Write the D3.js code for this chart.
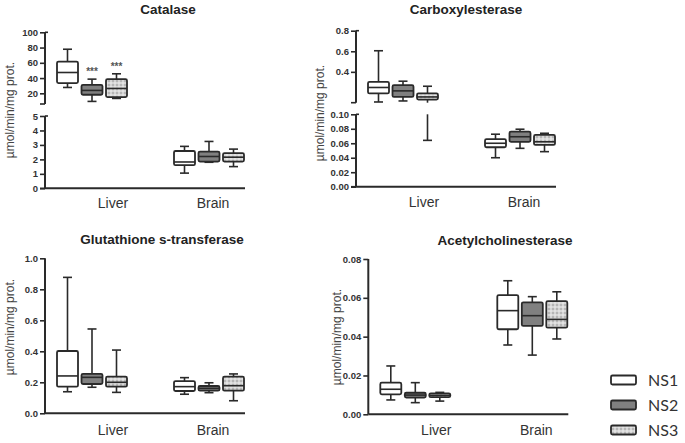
<!DOCTYPE html>
<html><head><meta charset="utf-8">
<script src="https://cdn.jsdelivr.net/npm/d3@7"></script>
<style>body{margin:0;background:#fff}svg{display:block}</style>
</head><body>
<svg id="c" width="685" height="443"></svg>
<script>
// ---- data ----
const series = ["NS1", "NS2", "NS3"];
const tissues = ["Liver", "Brain"];
// each box: [min, q1, median, q3, max]
const catalaseLiver = [[27.7,33.4,47.3,61.6,77.8],[9.4,18.1,23.8,31.2,38.6],[13.3,15.1,26.4,38.6,45.6]];
const catalaseBrain = [[1.05,1.6,1.82,2.58,2.9],[1.8,1.85,2.2,2.54,3.24],[1.5,1.85,2.15,2.43,2.71]];
const carboxLiver = [[0.107,0.19,0.248,0.303,0.605],[0.117,0.156,0.215,0.27,0.309],[0.064,0.13,0.156,0.19,0.26]];
const carboxBrain = [[0.040,0.0545,0.060,0.0656,0.0725],[0.053,0.062,0.069,0.076,0.0794],[0.0484,0.0577,0.062,0.0715,0.0738]];
const gstLiver = [[0.139,0.172,0.241,0.402,0.877],[0.168,0.189,0.232,0.255,0.544],[0.135,0.172,0.2,0.236,0.408]];
const gstBrain = [[0.123,0.144,0.172,0.208,0.23],[0.133,0.146,0.161,0.176,0.197],[0.081,0.146,0.178,0.236,0.254]];
const achLiver = [[0.0074,0.0103,0.0129,0.0163,0.0249],[0.006,0.0086,0.0099,0.0111,0.0163],[0.0068,0.0088,0.0098,0.0108,0.0113]];
const achBrain = [[0.0357,0.0438,0.0534,0.0614,0.0688],[0.0305,0.0455,0.0508,0.0577,0.0606],[0.0388,0.0446,0.0489,0.0583,0.0631]];
const catalaseUpperTicks = [20, 40, 60, 80, 100];
const catalaseLowerTicks = [0, 1, 2, 3, 4, 5];
const carboxUpperTicks = [0.4, 0.6, 0.8];
const carboxLowerTicks = [0, 0.02, 0.04, 0.06, 0.08, 0.10];
const gstTicks = [0, 0.2, 0.4, 0.6, 0.8, 1.0];
const achTicks = [0, 0.02, 0.04, 0.06, 0.08];
const catalaseStars = ["", "***", "***"];
const yTitle = "µmol/min/mg prot.";

// ---- layout ----
const panels = [
  {title:"Catalase", tx:168, ty:14, ax:45, xAxisY:188.3, lx:10, ly:110, lb:208,
   data:[catalaseLiver, catalaseBrain], stars:catalaseStars,
   segs:[{domain:[6,100], range:[104,32.3], ticks:catalaseUpperTicks, fmt:d3.format("d")},
         {domain:[0,5], range:[188.3,116], ticks:catalaseLowerTicks, fmt:d3.format("d")}]},
  {title:"Carboxylesterase", tx:466, ty:14, ax:356, xAxisY:186.7, lx:320, ly:113, lb:207,
   data:[carboxLiver, carboxBrain],
   segs:[{domain:[0.1,0.8], range:[102.7,30.7], ticks:carboxUpperTicks, fmt:d3.format(".1f")},
         {domain:[0,0.1], range:[186.7,114.3], ticks:carboxLowerTicks, fmt:d3.format(".2f")}]},
  {title:"Glutathione s-transferase", tx:162, ty:244, ax:45, xAxisY:413.3, lx:10, ly:327, lb:435,
   data:[gstLiver, gstBrain],
   segs:[{domain:[0,1], range:[413.3,258.3], ticks:gstTicks, fmt:d3.format(".1f")}]},
  {title:"Acetylcholinesterase", tx:505, ty:245, ax:368.3, xAxisY:414.3, lx:337, ly:337, lb:435,
   data:[achLiver, achBrain],
   segs:[{domain:[0,0.08], range:[414.3,259], ticks:achTicks, fmt:d3.format(".2f")}]}
];

const svg = d3.select("#c");
const defs = svg.append("defs");
const pat = defs.append("pattern").attr("id","dots").attr("patternUnits","userSpaceOnUse")
  .attr("width",4).attr("height",4);
pat.append("rect").attr("width",4).attr("height",4).attr("fill","#d6d6d6");
pat.append("circle").attr("cx",1).attr("cy",1).attr("r",0.8).attr("fill","#8e8e8e");
pat.append("circle").attr("cx",3).attr("cy",3).attr("r",0.8).attr("fill","#f4f4f4");

const fills = {NS1:"#ffffff", NS2:"#808080", NS3:"url(#dots)"};
const ink = "#2a2a2a";
const boxW = 21, capW = 9;

const xGroup = d3.scalePoint().domain(tissues).range([47, 164]);
const xLabel = d3.scalePoint().domain(tissues).range([68, 168]);
const xSeries = d3.scalePoint().domain(series).range([-24.5, 24.5]);

panels.forEach(p => {
  const g = svg.append("g");
  g.append("text").attr("x",p.tx).attr("y",p.ty).attr("text-anchor","middle")
    .attr("font-family","Liberation Sans, Arial, sans-serif").attr("font-weight","bold")
    .attr("font-size","13.5px").attr("fill","#222").text(p.title);
  g.append("text").attr("transform",`translate(${p.lx+4},${p.ly}) rotate(-90)`)
    .attr("text-anchor","middle").attr("font-family","Liberation Sans, Arial, sans-serif")
    .attr("font-size","12px").attr("fill","#444").text(yTitle);

  // x axis line
  g.append("line").attr("x1",p.ax).attr("x2",p.ax+200).attr("y1",p.xAxisY).attr("y2",p.xAxisY)
    .attr("stroke",ink).attr("stroke-width",2);
  tissues.forEach(t => {
    g.append("text").attr("x",p.ax+xLabel(t)).attr("y",p.lb).attr("text-anchor","middle")
      .attr("font-family","Liberation Sans, Arial, sans-serif").attr("font-size","14px")
      .attr("fill","#333").text(t);
  });

  p.segs.forEach((s, si) => {
    const y = d3.scaleLinear().domain(s.domain).range(s.range);
    const axis = d3.axisLeft(y).tickValues(s.ticks).tickFormat(s.fmt).tickSize(5).tickPadding(2);
    const ag = g.append("g").attr("transform",`translate(${p.ax},0)`).call(axis);
    ag.select(".domain").attr("d",`M0,${s.range[0]}V${s.range[1]}`).attr("stroke",ink).attr("stroke-width",2);
    ag.selectAll(".tick line").attr("stroke",ink).attr("stroke-width",1.6);
    ag.selectAll(".tick text").attr("font-family","Liberation Sans, Arial, sans-serif")
      .attr("font-weight","bold").attr("font-size","9.5px").attr("fill","#333");
    if (p.segs.length > 1) {
      // end caps of broken axis
      ag.append("line").attr("x1",-5).attr("x2",0).attr("y1",s.range[0]).attr("y2",s.range[0])
        .attr("stroke",ink).attr("stroke-width",1.6);
      ag.append("line").attr("x1",0).attr("x2",3).attr("y1",s.range[1]).attr("y2",s.range[1])
        .attr("stroke",ink).attr("stroke-width",1.6);
    }
    const [lo, hi] = s.domain;
    const clamp = v => Math.max(lo, Math.min(hi, v));
    const inSeg = v => v >= lo && v <= hi;

    tissues.forEach((t, ti) => {
      p.data[ti].forEach((b, k) => {
        const [mn, q1, md, q3, mx] = b;
        const cx = p.ax + xGroup(t) + xSeries(series[k]);
        const bg = g.append("g");
        // whiskers
        [[mn, q1], [q3, mx]].forEach(([a, c]) => {
          if (c < lo || a > hi) return;
          bg.append("line").attr("x1",cx).attr("x2",cx).attr("y1",y(clamp(a))).attr("y2",y(clamp(c)))
            .attr("stroke",ink).attr("stroke-width",1.6);
        });
        [mn, mx].forEach(v => {
          if (!inSeg(v)) return;
          bg.append("line").attr("x1",cx-capW/2).attr("x2",cx+capW/2).attr("y1",y(v)).attr("y2",y(v))
            .attr("stroke",ink).attr("stroke-width",1.6);
        });
        // box
        if (!(q3 < lo || q1 > hi)) {
          const yt = y(clamp(q3)), yb = y(clamp(q1));
          bg.append("rect").attr("x",cx-boxW/2).attr("y",yt).attr("width",boxW).attr("height",Math.max(0.5,yb-yt))
            .attr("rx",1.5).attr("fill",fills[series[k]]).attr("stroke",ink).attr("stroke-width",1.8);
          if (inSeg(md)) {
            bg.append("line").attr("x1",cx-boxW/2).attr("x2",cx+boxW/2).attr("y1",y(md)).attr("y2",y(md))
              .attr("stroke",ink).attr("stroke-width",1.6);
          }
        }
        if (p.stars && ti === 0 && si === 0 && p.stars[k]) {
          bg.append("text").attr("x",cx).attr("y",y(mx)-4).attr("text-anchor","middle")
            .attr("font-family","Liberation Sans, Arial, sans-serif").attr("font-weight","bold")
            .attr("font-size","10px").attr("fill","#555").text(p.stars[k]);
        }
      });
    });
  });
});

// legend
const legY = d3.scalePoint().domain(series).range([380, 430]);
const lg = svg.append("g");
series.forEach(s => {
  lg.append("rect").attr("x",611).attr("y",legY(s)-4.5).attr("width",25).attr("height",9).attr("rx",1.5)
    .attr("fill",fills[s]).attr("stroke",ink).attr("stroke-width",1.8);
  lg.append("text").attr("x",648).attr("y",legY(s)).attr("dy","0.36em")
    .attr("font-family","Lato, Liberation Sans, sans-serif").attr("font-size","16px")
    .attr("fill","#333").text(s);
});
</script>
</body></html>
